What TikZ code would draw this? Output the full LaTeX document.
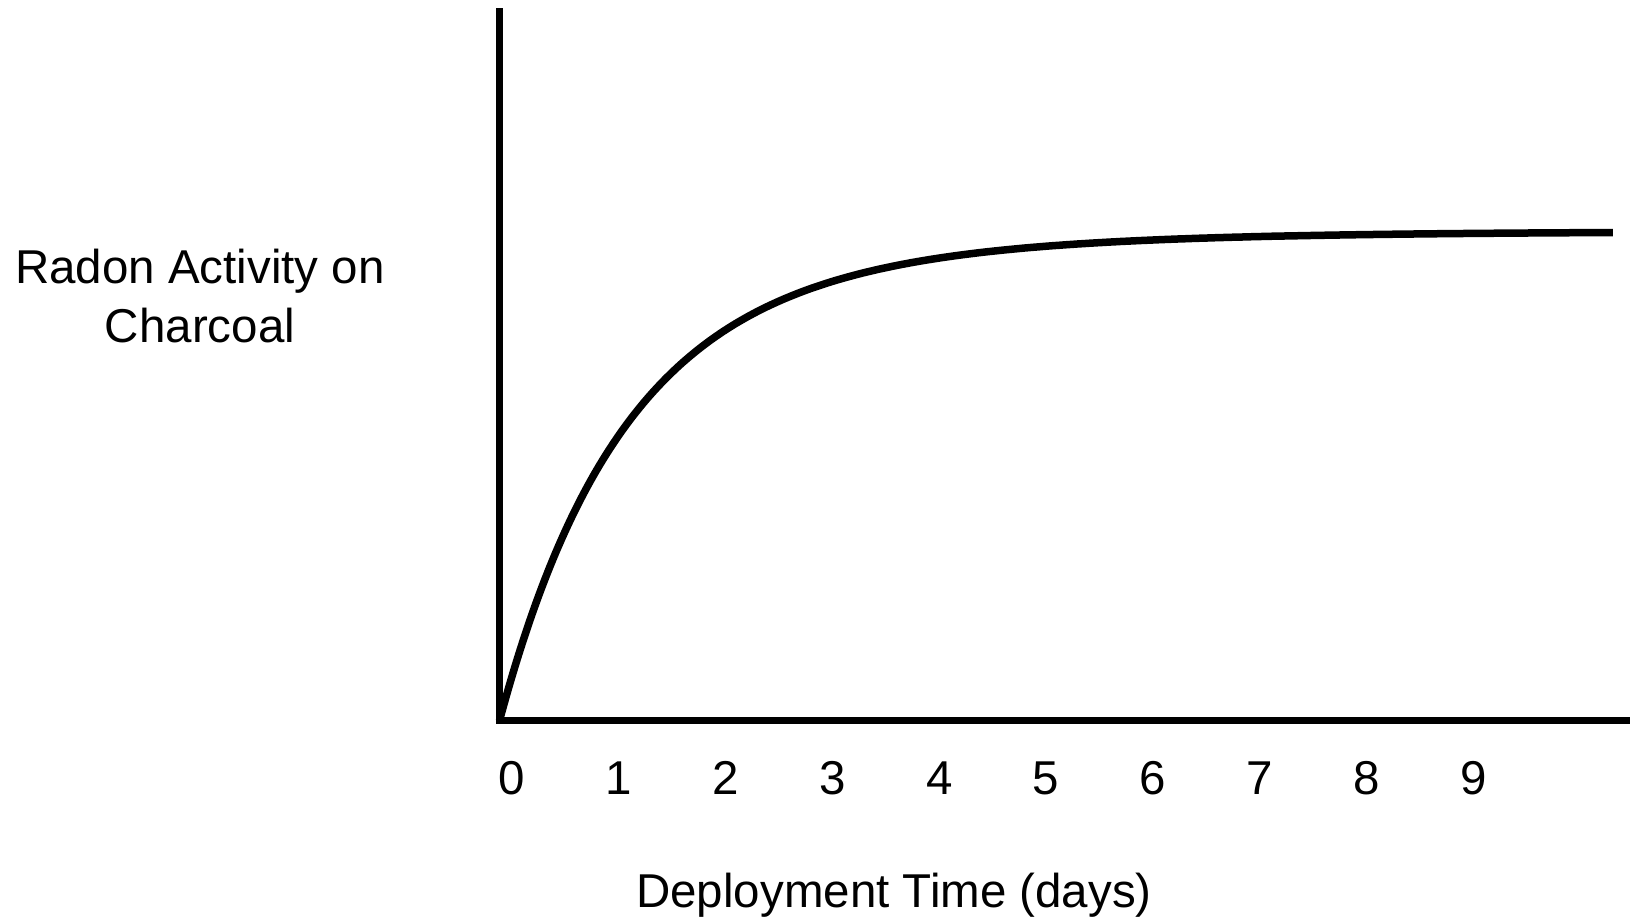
\documentclass[tikz,border=0pt]{standalone}
\usepackage{fontspec}
\setmainfont{Liberation Sans}
\begin{document}
\begin{tikzpicture}[x=1pt,y=-1pt,
  axisline/.style={line width=7pt,line cap=butt},
  curveline/.style={line width=7.5pt,line join=round},
  lbl/.style={font=\fontsize{47.5}{57}\selectfont,inner sep=0pt,anchor=base},
]
\useasboundingbox (0,0) rectangle (1630,916);
\coordinate (ytop) at (499.5,8);
\coordinate (orig) at (499.5,720.5);
\coordinate (xend) at (1630,720.5);
\coordinate (corner) at (499.5,724);
\draw[axisline] (ytop) -- (corner);
\draw[axisline] (496,720.5) -- (xend);
\draw[curveline] plot[domain=0:11.135,samples=220,smooth]
  ({499.5+100*\x},{720.5-490*(1-exp(-(0.76*\x-0.024*\x*\x)))});
\node[lbl] (yl1) at (200,283) {Radon Activity on};
\node[lbl] (yl2) at (200,342) {Charcoal};
\foreach \i in {0,...,9} {
  \node[lbl] (t\i) at ({512+106.8*\i},794) {\i};
}
\node[lbl] (xl) at (894,907) {Deployment Time (days)};
\end{tikzpicture}
\end{document}
